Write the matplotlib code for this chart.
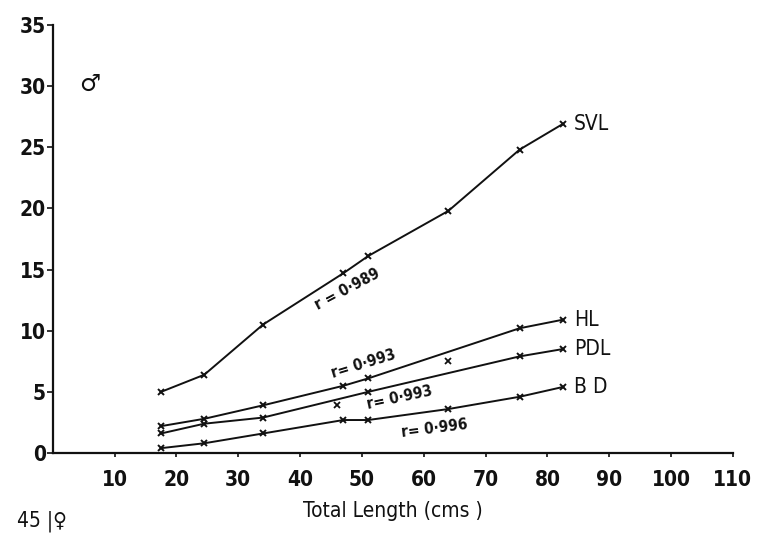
"""Body measurements against total length (male), hand-drawn regression plot."""

import matplotlib

matplotlib.use("Agg")
import matplotlib.pyplot as plt  # noqa: E402

INK = "#111111"

# total length (cm) of the measured specimens
tl = [17.5, 24.5, 34, 47, 51, 64, 75.5, 82.5]
hl_x = [17.5, 24.5, 34, 47, 51, 75.5, 82.5]
pdl_x = [17.5, 24.5, 34, 51, 75.5, 82.5]

svl = [5.0, 6.4, 10.5, 14.7, 16.1, 19.8, 24.8, 26.9]
hl = [2.2, 2.8, 3.9, 5.5, 6.1, 10.2, 10.9]
pdl = [1.6, 2.4, 2.9, 5.0, 7.9, 8.5]
bd = [0.4, 0.8, 1.6, 2.7, 2.7, 3.6, 4.6, 5.4]

# observations lying off the drawn lines
stray_x = [46, 64]
stray_y = [3.9, 7.5]

series = [
    ("SVL", tl, svl),
    ("HL", hl_x, hl),
    ("PDL", pdl_x, pdl),
    ("B D", tl, bd),
]

# correlation notes: text, x, y, angle
notes = [
    ("r = 0·989", 47.6, 13.4, 28),
    ("r= 0·993", 50.2, 7.3, 17),
    ("r= 0·993", 56.1, 4.5, 12),
    ("r= 0·996", 61.7, 2.0, 7),
]

xticks = list(range(10, 111, 10))
yticks = list(range(0, 36, 5))

TXT = dict(family="DejaVu Sans", stretch="condensed", color=INK)

fig = plt.figure(figsize=(7.65, 5.40), dpi=100)
ax = fig.add_axes([0.069, 0.161, 0.889, 0.793])
ax.set_xlim(0, 110)
ax.set_ylim(0, 35)

for name, xs, ys in series:
    ax.plot(xs, ys, color=INK, lw=1.4, marker="x", ms=5, mew=1.4, zorder=3)
    ax.text(xs[-1] + 1.8, ys[-1], name, ha="left", va="center", fontsize=15, **TXT)
ax.plot(stray_x, stray_y, ls="none", marker="x", ms=4, mew=1.3, color=INK)

for txt, x, y, ang in notes:
    ax.text(
        x,
        y,
        txt,
        rotation=ang,
        rotation_mode="anchor",
        ha="center",
        va="center",
        fontsize=11,
        weight="bold",
        **TXT,
    )

ax.text(6, 30.2, "♂", fontsize=17, ha="center", va="center", color=INK, weight="bold")

for side in ("top", "right"):
    ax.spines[side].set_visible(False)
for side in ("left", "bottom"):
    ax.spines[side].set_linewidth(1.6)
    ax.spines[side].set_color(INK)

ax.set_xticks(xticks)
ax.set_yticks(yticks)
ax.tick_params(axis="x", length=3, width=1.2, pad=9, labelsize=15, colors=INK)
ax.tick_params(axis="y", length=4, width=1.2, pad=1, labelsize=15, colors=INK)
for lab in ax.get_xticklabels() + ax.get_yticklabels():
    lab.set_family("DejaVu Sans")
    lab.set_stretch("condensed")
    lab.set_weight("semibold")

ax.set_xlabel("Total Length (cms )", fontsize=15, labelpad=8, **TXT)
fig.text(0.022, 0.035, "45 |♀", fontsize=15, va="center", **TXT)

fig.savefig("out.png", dpi=100)
